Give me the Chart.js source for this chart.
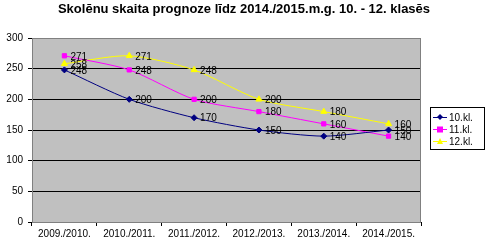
<!DOCTYPE html>
<html>
<head>
<meta charset="utf-8">
<script src="https://cdn.jsdelivr.net/npm/chart.js@4/dist/chart.umd.min.js"></script>
<style>
  html, body { margin: 0; padding: 0; background: #fff; }
  #wrap { width: 486px; height: 242px; position: relative; }
</style>
</head>
<body>
<div id="wrap"><canvas id="chart"></canvas></div>
<script>
// Chart data
const titleText = 'Skolēnu skaita prognoze līdz 2014./2015.m.g. 10. - 12. klasēs';
const years = ['2009./2010.', '2010./2011.', '2011./2012.', '2012./2013.', '2013./2014.', '2014./2015.'];
const grade10 = [248, 200, 170, 150, 140, 150];
const grade11 = [271, 248, 200, 180, 160, 140];
const grade12 = [258, 271, 248, 200, 180, 160];
const seriesNames = ['10.kl.', '11.kl.', '12.kl.'];
const yTicks = [0, 50, 100, 150, 200, 250, 300];

const font = 'Arial, "Liberation Sans", sans-serif';

// Title centred on the whole picture
const topTitle = {
    id: 'topTitle',
    afterDraw(chart) {
        const ctx = chart.ctx;
        ctx.save();
        ctx.font = 'bold 13px ' + font;
        ctx.fillStyle = '#000';
        ctx.textAlign = 'center';
        ctx.textBaseline = 'middle';
        ctx.fillText(titleText, 244, 9);
        ctx.restore();
    }
};

// Gray plot background + border
const plotBackground = {
    id: 'plotBackground',
    beforeDraw(chart) {
        const a = chart.chartArea;
        const ctx = chart.ctx;
        ctx.save();
        ctx.fillStyle = '#c0c0c0';
        ctx.fillRect(a.left, a.top, a.right - a.left, a.bottom - a.top);
        ctx.restore();
    },
    afterDatasetsDraw(chart) {
        const a = chart.chartArea;
        const ctx = chart.ctx;
        ctx.save();
        ctx.strokeStyle = '#808080';
        ctx.lineWidth = 1;
        ctx.strokeRect(a.left + 0.5, a.top + 0.5, a.right - a.left - 1, a.bottom - a.top);
        ctx.restore();
    }
};

// Value labels to the right of each point
const valueLabels = {
    id: 'valueLabels',
    afterDatasetsDraw(chart) {
        const ctx = chart.ctx;
        ctx.save();
        ctx.font = '10px ' + font;
        ctx.fillStyle = '#000';
        ctx.textAlign = 'left';
        ctx.textBaseline = 'middle';
        chart.data.datasets.forEach((ds, i) => {
            chart.getDatasetMeta(i).data.forEach((pt, j) => {
                ctx.fillText(String(ds.data[j]), pt.x + 6, pt.y + 1);
            });
        });
        ctx.restore();
    }
};

// Boxed legend at right, Excel style
const boxLegend = {
    id: 'boxLegend',
    afterDraw(chart) {
        const ctx = chart.ctx;
        const x0 = 430, y0 = 107, w = 55, h = 43;
        ctx.save();
        ctx.fillStyle = '#fff';
        ctx.fillRect(x0, y0, w, h);
        ctx.strokeStyle = '#000';
        ctx.lineWidth = 1;
        ctx.strokeRect(x0 + 0.5, y0 + 0.5, w - 1, h - 1);
        ctx.font = '10px ' + font;
        ctx.textBaseline = 'middle';
        chart.data.datasets.forEach((ds, i) => {
            const y = y0 + 10 + i * 12;
            ctx.strokeStyle = ds.borderColor;
            ctx.beginPath();
            ctx.moveTo(x0 + 3, y + 0.5);
            ctx.lineTo(x0 + 17, y + 0.5);
            ctx.stroke();
            ctx.fillStyle = ds.pointBackgroundColor;
            const cx = x0 + 10, s = 3;
            ctx.beginPath();
            if (ds.pointStyle === 'rectRot') {
                ctx.moveTo(cx, y - s); ctx.lineTo(cx + s, y); ctx.lineTo(cx, y + s); ctx.lineTo(cx - s, y);
            } else if (ds.pointStyle === 'rect') {
                ctx.rect(cx - s, y - s + 0.5, 2 * s, 2 * s);
            } else {
                ctx.moveTo(cx, y - s); ctx.lineTo(cx + s, y + s); ctx.lineTo(cx - s, y + s);
            }
            ctx.closePath();
            ctx.fill();
            ctx.fillStyle = '#000';
            ctx.fillText(ds.label, x0 + 19, y + 1);
        });
        ctx.restore();
    }
};

function makeSeries(label, data, color, style, radius) {
    return {
        label: label,
        data: data,
        borderColor: color,
        backgroundColor: color,
        pointBackgroundColor: color,
        pointBorderColor: color,
        pointStyle: style,
        pointRadius: radius,
        borderWidth: 1,
        tension: 0.25
    };
}

new Chart(document.getElementById('chart'), {
    type: 'line',
    data: {
        labels: years,
        datasets: [
            makeSeries(seriesNames[0], grade10, '#000080', 'rectRot', 3),
            makeSeries(seriesNames[1], grade11, '#ff00ff', 'rect', 3),
            makeSeries(seriesNames[2], grade12, '#ffff00', 'triangle', 3.5)
        ]
    },
    options: {
        responsive: true,
        maintainAspectRatio: false,
        animation: false,
        layout: { padding: { left: 0, right: 65, top: 38, bottom: 0 } },
        plugins: {
            legend: { display: false },
            tooltip: { enabled: false },
            title: { display: false }
        },
        scales: {
            x: {
                offset: true,
                grid: { offset: true, drawOnChartArea: false, color: '#000', tickLength: 4 },
                border: { color: '#000' },
                ticks: { color: '#000', font: { family: font, size: 10 }, maxRotation: 0, padding: 2 },
                afterFit(scale) { scale.height = 20; }
            },
            y: {
                min: 0,
                max: 300,
                afterBuildTicks(scale) { scale.ticks = yTicks.map(v => ({ value: v })); },
                grid: { color: '#000', tickLength: 4 },
                border: { color: '#000' },
                ticks: { color: '#000', font: { family: font, size: 10 }, padding: 5 },
                afterFit(scale) { scale.width = 32; }
            }
        }
    },
    plugins: [topTitle, plotBackground, valueLabels, boxLegend]
});
</script>
</body>
</html>
